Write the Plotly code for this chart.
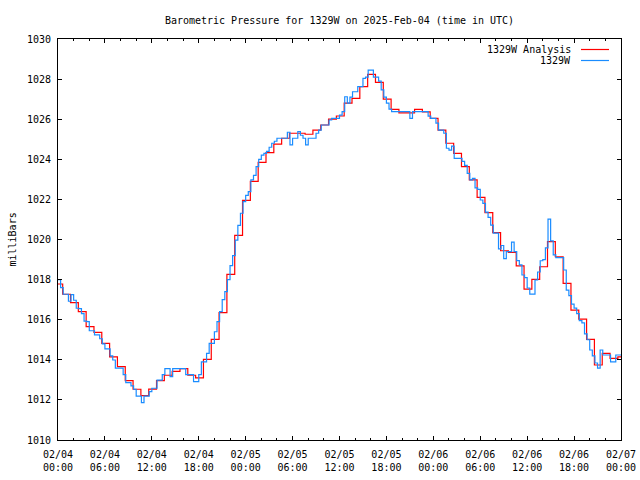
import pandas as pd
import plotly.graph_objects as go

# ---------------- data ----------------
title_text = "Barometric Pressure for 1329W on 2025-Feb-04 (time in UTC)"
series_names = ["1329W Analysis", "1329W"]
y_label = "milliBars"

# Analysis (hourly, red) values
analysis_values = [
    1017.78, 1017.27, 1016.85, 1016.40, 1015.65, 1015.37, 1014.82, 1014.15, 1013.66, 1012.96,
    1012.53, 1012.21, 1012.54, 1012.96, 1013.23, 1013.42, 1013.56, 1013.23, 1013.10, 1014.02,
    1015.02, 1016.35, 1018.26, 1020.21, 1021.95, 1022.90, 1023.85, 1024.33, 1024.76, 1025.05,
    1025.30, 1025.30, 1025.25, 1025.46, 1025.71, 1026.00, 1026.16, 1026.80, 1027.04, 1027.62,
    1028.24, 1027.84, 1027.00, 1026.49, 1026.32, 1026.32, 1026.49, 1026.37, 1026.04, 1025.46,
    1024.80, 1024.30, 1023.63, 1022.97, 1022.10, 1021.34, 1020.34, 1019.44, 1019.36, 1018.68,
    1017.52, 1018.01, 1018.64, 1019.89, 1019.14, 1017.81, 1016.48, 1016.03, 1015.02, 1013.74,
    1014.32, 1014.07, 1014.15,
]
analysis_times = (["2025-02-04 00:00"]
                  + [t.strftime("%Y-%m-%d %H:%M") for t in pd.date_range("2025-02-04 00:36", periods=72, freq="h")]
                  + ["2025-02-07 00:00"])
analysis_plot_values = analysis_values + [analysis_values[-1]]

# Station (20-minute, blue) values
station_values = [
    1018.00, 1017.60, 1017.27,  1017.27, 1016.92, 1017.25,  1016.97, 1016.57, 1016.55,
    1016.30, 1015.93, 1015.90,  1015.45, 1015.45, 1015.24,  1015.24, 1015.05, 1014.79,
    1014.54, 1014.54, 1014.20,  1013.99, 1013.58, 1013.58,  1013.58, 1013.26, 1012.86,
    1012.86, 1012.70, 1012.53,  1012.19, 1012.19, 1011.86,  1012.19, 1012.19, 1012.41,
    1012.58, 1012.58, 1012.99,  1012.99, 1013.26, 1013.56,  1013.56, 1013.16, 1013.56,
    1013.56, 1013.56, 1013.56,  1013.56, 1013.26, 1013.26,  1013.26, 1012.91, 1012.91,
    1013.26, 1013.90, 1013.90,  1014.32, 1014.82, 1014.82,  1015.40, 1015.90, 1016.40,
    1017.00, 1017.40, 1018.00,  1018.70, 1019.20, 1019.97,  1020.70, 1021.31, 1021.89,
    1022.20, 1022.39, 1022.97,  1023.20, 1023.63, 1024.00,  1024.21, 1024.30, 1024.40,
    1024.60, 1024.80, 1024.90,  1025.05, 1025.05, 1025.05,  1025.05, 1025.35, 1024.72,
    1025.05, 1025.05, 1025.38,  1025.20, 1025.05, 1024.72,  1025.05, 1025.05, 1025.05,
    1025.30, 1025.46, 1025.71,  1025.71, 1025.71, 1025.96,  1026.04, 1026.04, 1026.04,
    1026.20, 1026.38, 1027.12,  1026.80, 1027.10, 1027.37,  1027.37, 1027.62, 1027.62,
    1028.04, 1028.10, 1028.45,  1028.45, 1028.10, 1028.10,  1027.90, 1027.46, 1027.10,
    1026.80, 1026.50, 1026.38,  1026.38, 1026.38, 1026.38,  1026.38, 1026.38, 1026.38,
    1026.04, 1026.38, 1026.38,  1026.38, 1026.38, 1026.38,  1026.38, 1026.15, 1026.04,
    1026.04, 1025.80, 1025.46,  1025.46, 1025.30, 1024.55,  1024.46, 1024.66, 1024.05,
    1024.05, 1024.05, 1023.90,  1023.70, 1023.30, 1022.97,  1023.05, 1022.57, 1022.50,
    1021.97, 1021.80, 1021.37,  1021.10, 1020.72, 1020.32,  1020.32, 1019.53, 1019.70,
    1019.05, 1019.40, 1019.40,  1019.87, 1019.40, 1018.95,  1018.73, 1018.23, 1018.10,
    1017.58, 1017.28, 1017.28,  1017.98, 1018.38, 1018.94,  1019.00, 1019.58, 1021.02,
    1019.93, 1019.23, 1019.10,  1019.10, 1019.10, 1018.48,  1017.48, 1017.20, 1016.78,
    1016.58, 1016.30, 1015.95,  1015.84, 1015.29, 1015.00,  1014.49, 1014.20, 1013.84,
    1013.58, 1014.49, 1014.24,  1014.24, 1014.24, 1013.90,  1013.90, 1014.24, 1014.24,
    1014.24,
]
station_times = [t.strftime("%Y-%m-%d %H:%M") for t in pd.date_range("2025-02-04 00:00", periods=len(station_values), freq="20min")]

x_tick_values = [t.strftime("%Y-%m-%d %H:%M") for t in pd.date_range("2025-02-04 00:00", "2025-02-07 00:00", freq="6h")]
x_tick_labels = ["02/04<br>00:00", "02/04<br>06:00", "02/04<br>12:00", "02/04<br>18:00",
                 "02/05<br>00:00", "02/05<br>06:00", "02/05<br>12:00", "02/05<br>18:00",
                 "02/06<br>00:00", "02/06<br>06:00", "02/06<br>12:00", "02/06<br>18:00",
                 "02/07<br>00:00"]
y_tick_values = [1010, 1012, 1014, 1016, 1018, 1020, 1022, 1024, 1026, 1028, 1030]

# ---------------- styles ----------------
RED = "#ff0000"
BLUE = "#1a8cff"
FONT = "DejaVu Sans Mono"
FS = 10

fig = go.Figure()
fig.add_trace(go.Scatter(x=analysis_times, y=analysis_plot_values, mode="lines",
                         line=dict(color=RED, width=1.2, shape="hv"), name=series_names[0]))
fig.add_trace(go.Scatter(x=station_times, y=station_values, mode="lines",
                         line=dict(color=BLUE, width=1.2, shape="hv"), name=series_names[1]))

L, R, T, B = 58, 19, 39, 40
W, H = 640, 480
pw, ph = W - L - R, H - T - B

fig.update_layout(
    width=W, height=H,
    margin=dict(l=L, r=R, t=T, b=B, autoexpand=False),
    paper_bgcolor="white", plot_bgcolor="white",
    showlegend=False,
    font=dict(family=FONT, size=FS, color="black"),
    title=dict(text=title_text, x=0.5, xref="paper", y=1 - 20 / H, yref="container",
               xanchor="center", yanchor="middle", font=dict(family=FONT, size=FS, color="black")),
)
fig.update_xaxes(
    type="date", range=["2025-02-04 00:00", "2025-02-07 00:00"],
    tickvals=x_tick_values, ticktext=x_tick_labels, automargin=False,
    ticks="inside", ticklen=4, tickwidth=1, tickcolor="black",
    showline=True, linecolor="black", linewidth=1, mirror="ticks",
    showgrid=False, zeroline=False, ticklabelstandoff=5,
    minor=dict(ticks="inside", ticklen=2, tickwidth=1, tickcolor="black",
               dtick=2 * 3600 * 1000, tick0="2025-02-04 00:00", showgrid=False),
    tickfont=dict(family=FONT, size=FS, color="black"),
)
fig.update_yaxes(
    range=[1010, 1030], tickvals=y_tick_values, tickformat="d", automargin=False,
    ticks="inside", ticklen=4, tickwidth=1, tickcolor="black",
    showline=True, linecolor="black", linewidth=1, mirror="ticks",
    showgrid=False, zeroline=False, ticklabelstandoff=4,
    tickfont=dict(family=FONT, size=FS, color="black"),
)

# y-axis label
fig.add_annotation(text=y_label, xref="paper", yref="paper", x=(12 - L) / pw, y=0.5,
                   textangle=-90, showarrow=False, xanchor="center", yanchor="middle",
                   font=dict(family=FONT, size=FS, color="black"))

# gnuplot-style key (text then line sample), top right inside the plot
key_rows = [(49.5, RED), (60.5, BLUE)]
for name, (ypix, col) in zip(series_names, key_rows):
    yp = (H - B - ypix) / ph
    fig.add_annotation(text=name, xref="paper", yref="paper", x=(573 - L) / pw, y=yp,
                       showarrow=False, xanchor="right", yanchor="middle",
                       font=dict(family=FONT, size=FS, color="black"))
    fig.add_shape(type="line", xref="paper", yref="paper",
                  x0=(581 - L) / pw, x1=(609 - L) / pw, y0=yp, y1=yp,
                  line=dict(color=col, width=1.2))

fig.write_html("out.html", config={"displayModeBar": False},
               post_script="document.body.style.margin='0';document.body.style.overflow='hidden';")
